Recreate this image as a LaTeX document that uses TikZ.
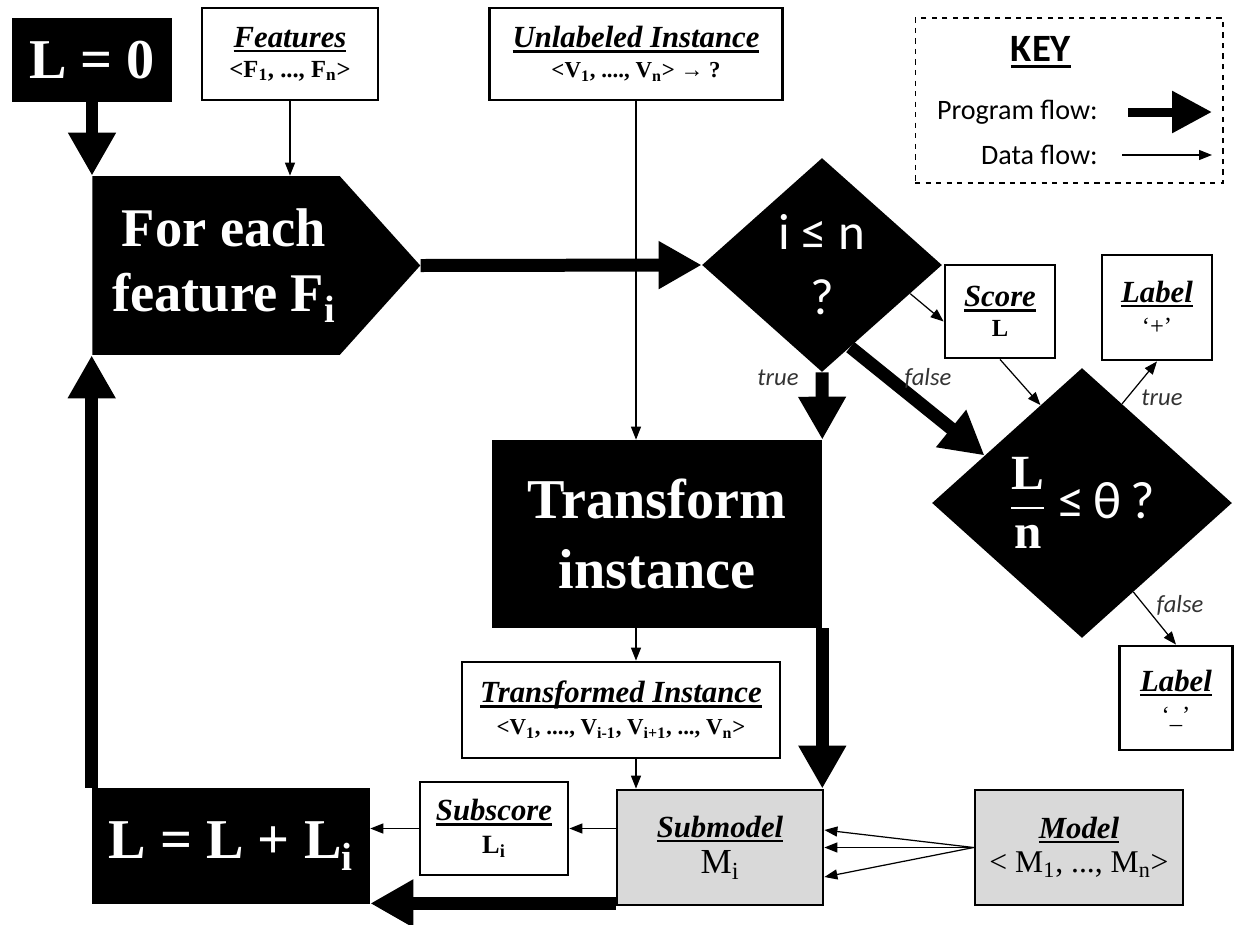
\documentclass[tikz,border=0pt]{standalone}
\usepackage{fontspec}
\setmainfont{Liberation Serif}
\newfontfamily\calib{Carlito}
\usepackage{tikz}
\usetikzlibrary{shapes,arrows.meta,positioning}

\definecolor{boxgray}{gray}{0.85}
\newcommand{\hdr}[1]{\setbox0\hbox{#1}\rlap{\rule[-0.16em]{\wd0}{0.08em}}\box0}
\newcommand{\ttl}[1]{{\fontsize{17.5}{20}\selectfont\bfseries\itshape\hdr{#1}}}
\newcommand{\sbs}[1]{\textsubscript{#1}}

\begin{document}
\begin{tikzpicture}[x=0.02cm, y=-0.02cm]
	\tikzstyle{Prog}   = [fill=black, text=white, align=center, inner sep=0pt, font=\bfseries\fontsize{32}{36}\selectfont]
	\tikzstyle{Data}   = [draw=black, line width=1.6pt, fill=white, align=center, inner sep=0pt]
	\tikzstyle{Store}  = [Data, fill=boxgray]
	\tikzstyle{Test}   = [diamond, fill=black, text=white, align=center, inner sep=0pt]
	\tikzstyle{PF}     = [line width=0.26cm, -{Triangle[width=0.9cm,length=0.86cm]}]
	\tikzstyle{DF}     = [line width=0.7pt, -{Triangle[width=0.2cm,length=0.26cm]}]
	\tikzstyle{Branch} = [inner sep=0pt, text=black!80, font=\calib\itshape\fontsize{14}{16}\selectfont]

	\useasboundingbox (0,0) rectangle (1235,924);

	% program steps
	\node (start) at (92,60) [Prog, minimum width=3.2cm, minimum height=1.68cm] {L = 0};
	\node (each) at (216,265.5) [Prog, signal, signal to=east, signal pointer angle=96, minimum width=6.56cm, minimum height=3.58cm, font=\bfseries\fontsize{31}{37}\selectfont] {\hspace*{9pt}For each\\\hspace*{9pt}feature F\sbs{i}};
	\node (more) at (822,265) [Test, minimum width=4.8cm, minimum height=4.28cm, font=\calib\fontsize{29}{37}\selectfont] {i ≤ n\\?};
	\node (trans) at (657,534) [Prog, minimum width=6.6cm, minimum height=3.76cm, font=\bfseries\fontsize{32}{40}\selectfont] {Transform\\instance};
	\node (sum) at (231,846) [Prog, minimum width=5.56cm, minimum height=2.32cm] {L = L + L\sbs{i}};
	\node (ratio) at (1082,503) [Test, minimum width=6cm, minimum height=5.4cm] {{\bfseries\fontsize{28}{30}\selectfont$\displaystyle{\hbox{L}\above1.6pt\hbox{n}}$}\hspace{7pt}{\calib\fontsize{30}{32}\selectfont ≤\,θ\,?}};

	% data
	\node (feats) at (290,54) [Data, minimum width=3.52cm, minimum height=1.84cm] {\ttl{Features}\\[5pt]{\bfseries\fontsize{14}{16}\selectfont \textless F\sbs{1}, ..., F\sbs{n}\textgreater}};
	\node (unlab) at (636,54) [Data, minimum width=5.86cm, minimum height=1.84cm] {\ttl{Unlabeled Instance}\\[5pt]{\bfseries\fontsize{13}{15}\selectfont \textless V\sbs{1}, ...., V\sbs{n}\textgreater{} → ?}};
	\node (tinst) at (621,710) [Data, minimum width=6.36cm, minimum height=1.92cm] {\ttl{Transformed Instance}\\[5pt]{\bfseries\fontsize{13}{15}\selectfont \textless V\sbs{1}, ...., V\sbs{i-1}, V\sbs{i+1}, ..., V\sbs{n}\textgreater}};
	\node (score) at (1000,311.5) [Data, minimum width=2.2cm, minimum height=1.86cm] {\ttl{Score}\\[5pt]{\bfseries\fontsize{14}{16}\selectfont L}};
	\node (pos) at (1157,307.5) [Data, minimum width=2.2cm, minimum height=2.1cm] {\ttl{Label}\\[5pt]{\fontsize{14}{16}\selectfont ‘+’}};
	\node (neg) at (1176,698) [Data, minimum width=2.26cm, minimum height=2.08cm] {\ttl{Label}\\[5pt]{\fontsize{14}{16}\selectfont ‘\_’}};
	\node (subscore) at (494,828.5) [Data, minimum width=2.96cm, minimum height=1.86cm] {\ttl{Subscore}\\[5pt]{\bfseries\fontsize{15}{17}\selectfont L\sbs{i}}};
	\node (submodel) at (720,847.5) [Store, minimum width=4.12cm, minimum height=2.3cm] {\ttl{Submodel}\\[4pt]{\fontsize{20}{22}\selectfont M\sbs{i}}};
	\node (model) at (1079,847.5) [Store, minimum width=4.16cm, minimum height=2.3cm] {\ttl{Model}\\[4pt]{\fontsize{18}{20}\selectfont \textless{} M\sbs{1}, ..., M\sbs{n}\textgreater}};

	% key
	\node (key) at (1069,100.5) [draw, dashed, line width=0.6pt, minimum width=6.16cm, minimum height=3.3cm] {};
	\node (keyttl) at (1041,52) {\calib\bfseries\fontsize{22}{24}\selectfont\hdr{KEY}};
	\node (progtxt) at (1098,112) [anchor=east, inner sep=0pt, font=\calib\fontsize{16}{18}\selectfont] {Program flow:};
	\node (datatxt) at (1098,155) [anchor=east, inner sep=0pt, font=\calib\fontsize{16}{18}\selectfont] {Data flow:};
	\coordinate (progend) at (1212,112);
	\coordinate (dataend) at (1212,155);
	\draw[line width=0.18cm, -{Triangle[width=0.8cm,length=0.8cm]}] ([xshift=0.6cm]progtxt.east) -- (progend);
	\draw[DF] ([xshift=0.48cm]datatxt.east) -- (dataend);

	% program flow
	\draw[PF] (start.south) -- (start.south |- each.north);
	\draw[PF] (each.east) -- (more.west);
	\draw[PF] (more.south) -- (trans.north east);
	\draw[PF] (more.-71) -- (ratio.154);
	\draw[PF] (trans.south east) -- (trans.south east |- submodel.north);
	\draw[PF] ([yshift=0.06cm]submodel.south west) -- ([yshift=0.06cm]submodel.south west -| sum.east);
	\draw[PF] (sum.north west) -- (sum.north west |- each.south);

	% data flow
	\draw[DF] (feats.south) -- (feats.south |- each.north);
	\draw[DF] (unlab.south) -- (unlab.south |- trans.north);
	\draw[DF] (unlab.south |- trans.south) -- (unlab.south |- tinst.north);
	\draw[DF] (unlab.south |- tinst.south) -- (unlab.south |- submodel.north);
	\draw[DF] (more.-18) -- ([yshift=-0.2cm]score.west);
	\draw[DF] (score.south) -- (ratio.113);
	\draw[DF] (ratio.68) -- (pos.south);
	\draw[DF] (ratio.-60) -- (neg.north);
	\draw[DF] (submodel.west |- subscore.east) -- (subscore.east);
	\draw[DF] (subscore.west) -- (subscore.west -| sum.east);
	\draw[DF] (model.west) -- ([yshift=0.35cm]submodel.east);
	\draw[DF] (model.west) -- (submodel.east);
	\draw[DF] (model.west) -- ([yshift=-0.59cm]submodel.east);

	% branch labels
	\node (yes1) at (778,378) [Branch] {true};
	\node (no1) at (928,378) [Branch] {false};
	\node (yes2) at (1162,398) [Branch] {true};
	\node (no2) at (1180,605) [Branch] {false};
\end{tikzpicture}
\end{document}
